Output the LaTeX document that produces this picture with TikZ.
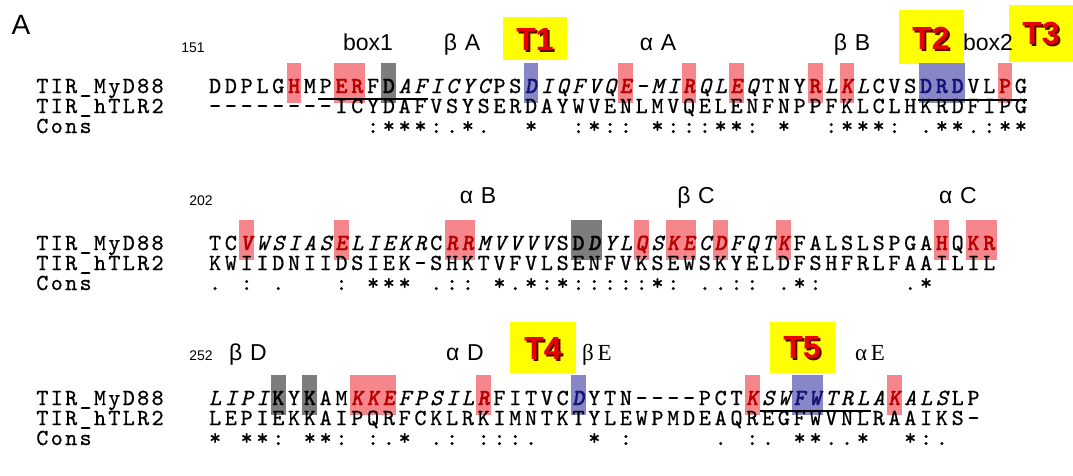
\documentclass[tikz,border=0pt]{standalone}
\usepackage{fontspec}
\setmainfont{Liberation Sans}
\newfontfamily\serf{Liberation Serif}
\newfontfamily\monof{lmmono10-regular.otf}[
  FakeBold=0.7,
  ItalicFont=lmmono10-italic.otf,
  BoldFont=lmmonolt10-bold.otf,
  BoldItalicFont=lmmonolt10-boldoblique.otf,
  BoldFeatures={FakeBold=1.3},
  BoldItalicFeatures={FakeBold=1.3}]
\definecolor{hlpink}{RGB}{245,135,140}
\definecolor{hlblue}{RGB}{135,135,200}
\definecolor{hlgray}{RGB}{125,125,125}
\definecolor{resred}{RGB}{185,0,0}
\definecolor{resblue}{RGB}{20,20,120}
\definecolor{tred}{RGB}{235,0,0}
\definecolor{tshadow}{RGB}{90,0,0}
\definecolor{tyellow}{RGB}{255,255,0}
\newdimen\cw
\def\qstyle{}
\def\qN{\def\qstyle{\upshape\mdseries\color{black}}}
\def\qI{\def\qstyle{\itshape\mdseries\color{black}}}
\def\qB{\def\qstyle{\upshape\bfseries\color{black}}}
\def\qBI{\def\qstyle{\itshape\bfseries\color{black}}}
\def\qR{\def\qstyle{\upshape\bfseries\color{resred}}}
\def\qRI{\def\qstyle{\itshape\bfseries\color{resred}}}
\def\qU{\def\qstyle{\upshape\bfseries\color{resblue}}}
\def\qUI{\def\qstyle{\itshape\bfseries\color{resblue}}}
\def\qUS{\hbox to\cw{\hss\_\hss}}
\def\qend{\qend}
\def\cells#1{\qN\cellloop#1\qend}
\def\cellloop#1{%
 \ifx#1\qend \let\qnext\relax
 \else
   \ifcat\relax\noexpand#1#1%
   \else
     \if0#1\hbox to\cw{\hss}\else\hbox to\cw{\hss{\qstyle #1}\hss}\fi
   \fi
   \let\qnext\cellloop
 \fi
 \qnext}
\newcommand\hlbox[4]{\fill[#1] ({207+15.8*#3+0.5},{#2-30}) rectangle ({207+15.8*(#3+#4)-0.5},{#2+10});}
\begin{document}
\begin{tikzpicture}[x=1pt,y=-1pt,
  seqtext/.style={anchor=base west,inner sep=0pt,text height=13pt,text depth=1pt,font=\monof\fontsize{23}{24}\selectfont},
  lab/.style={anchor=base,inner sep=0pt,font=\fontsize{23}{25}\selectfont},
  monolab/.style={anchor=base,inner sep=0pt,font=\serf\fontsize{23}{25}\selectfont},
  num/.style={anchor=base,inner sep=0pt,font=\fontsize{14}{16}\selectfont},
  tbox/.style={fill=tyellow},
  ttext/.style={inner sep=0pt,font=\bfseries\fontsize{32}{34}\selectfont,text=tred},
  tshad/.style={inner sep=0pt,font=\bfseries\fontsize{32}{34}\selectfont,text=tshadow},
  uline/.style={line width=1.3pt,black}]
\useasboundingbox (0,0) rectangle (1073,475);
\fill[white] (0,0) rectangle (1073,475);
% yellow boxes
\fill[tbox] (503,17) rectangle (567,60);
\fill[tbox] (899,10) rectangle (964,64);
\fill[tbox] (1009,5) rectangle (1073,62);
\fill[tbox] (510,322) rectangle (576,373);
\fill[tbox] (770,322) rectangle (835,373);
% highlights row 1
\hlbox{hlpink}{93}{5}{1}
\hlbox{hlpink}{93}{8}{2}
\hlbox{hlgray}{93}{11}{1}
\hlbox{hlblue}{93}{20}{1}
\hlbox{hlpink}{93}{26}{1}
\hlbox{hlpink}{93}{30}{1}
\hlbox{hlpink}{93}{33}{1}
\hlbox{hlpink}{93}{38}{1}
\hlbox{hlpink}{93}{40}{1}
\hlbox{hlblue}{93}{45}{3}
\hlbox{hlpink}{93}{50}{1}
% highlights row 2
\hlbox{hlpink}{250}{2}{1}
\hlbox{hlpink}{250}{8}{1}
\hlbox{hlpink}{250}{15}{2}
\hlbox{hlgray}{250}{23}{2}
\hlbox{hlpink}{250}{27}{1}
\hlbox{hlpink}{250}{29}{2}
\hlbox{hlpink}{250}{32}{1}
\hlbox{hlpink}{250}{36}{1}
\hlbox{hlpink}{250}{46}{1}
\hlbox{hlpink}{250}{48}{2}
% highlights row 3
\hlbox{hlgray}{405}{4}{1}
\hlbox{hlgray}{405}{6}{1}
\hlbox{hlpink}{405}{9}{3}
\hlbox{hlpink}{405}{17}{1}
\hlbox{hlblue}{405}{23}{1}
\hlbox{hlpink}{405}{34}{1}
\hlbox{hlblue}{405}{37}{2}
\hlbox{hlpink}{405}{43}{1}
% panel letter
\node[inner sep=0pt,font=\fontsize{28}{30}\selectfont] (panelA) at (21,25) {A};
% header labels
\node[num] (n151) at (193,52) {151};
\node[lab] (box1) at (368,50) {box1};
\node[lab] (bA) at (462,50) {β\,\,A};
\node[lab] (aA) at (658,50) {α\,\,A};
\node[lab] (bB) at (852,50) {β\,\,B};
\node[lab] (box2) at (988,50) {box2};
\node[num] (n202) at (201,205) {202};
\node[lab] (aB) at (478,203) {α\,\,B};
\node[lab] (bC) at (696,203) {β\,\,C};
\node[lab] (aC) at (958,203) {α\,\,C};
\node[num] (n252) at (201,360) {252};
\node[lab] (bD) at (248,360) {β\,\,D};
\node[lab] (aD) at (465,360) {α\,\,D};
\node[monolab] (bE) at (597,360) {β\,E};
\node[monolab] (aE) at (870,360) {α\,E};
% T labels
\foreach \nm/\tx/\cx/\cy in {t1/T1/535/39, t2/T2/931/38, t3/T3/1041/34, t4/T4/543/348, t5/T5/802/348}{
  \node[tshad] (\nm s) at (\cx+2,\cy+2) {\tx};
  \node[ttext] (\nm) at (\cx,\cy) {\tx};
}
% row labels
\foreach \nm/\yy in {1/93,2/250,3/405}{
  \node[seqtext] (lm\nm) at (35,\yy) {\cw=14.4pt\cells{TIR\qUS MyD88}};
  \node[seqtext] (lh\nm) at (35,\yy+20) {\cw=14.4pt\cells{TIR\qUS hTLR2}};
  \node[seqtext] (lc\nm) at (35,\yy+40) {\cw=14.4pt\cells{Cons}};
}
% row 1
\node[seqtext] (s1m) at (207,93) {\cw=15.8pt\cells{\qN DDPLG\qR H\qN MP\qR ER\qN F\qB D\qI AFICYC\qN PS\qUI D\qI IQFVQ\qRI E\qI -MI\qRI R\qI QL\qRI E\qI Q\qN TNY\qR R\qI L\qRI K\qI L\qN CVS\qU DRD\qN VL\qR P\qN G}};
\node[seqtext] (s1h) at (207,113) {\cw=15.8pt\cells{--------ICYDAFVSYSERDAYWVENLMVQELENFNPPFKLCLHKRDFIPG}};
\node[seqtext] (s1c) at (207,133) {\cw=15.8pt\cells{0000000000:***:.*.00*00:*::0*:::**:0*00:***:0.**.:**}};
% row 2
\node[seqtext] (s2m) at (207,250) {\cw=15.8pt\cells{\qN TC\qRI V\qI WSIAS\qRI E\qI LIEKR\qN C\qRI RR\qI MVVVV\qN S\qB D\qBI D\qI YL\qRI Q\qI S\qRI KE\qI C\qRI D\qI FQT\qRI K\qN FALSLSPGA\qR H\qN Q\qR KR}};
\node[seqtext] (s2h) at (207,270) {\cw=15.8pt\cells{KWIIDNIIDSIEK-SHKTVFVLSENFVKSEWSKYELDFSHFRLFAAILIL}};
\node[seqtext] (s2c) at (207,290) {\cw=15.8pt\cells{.0:0.000:0***0.::0*.*:*:::::*:0..::0.*:00000.*}};
% row 3
\node[seqtext] (s3m) at (207,405) {\cw=15.8pt\cells{\qI LIPI\qB K\qN Y\qB K\qN AM\qRI KKE\qI FPSIL\qRI R\qN FITVC\qUI D\qN YTN----PCT\qRI K\qI SW\qUI FW\qI TRLA\qRI K\qI ALS\qN LP}};
\node[seqtext] (s3h) at (207,425) {\cw=15.8pt\cells{LEPIEKKAIPQRFCKLRKIMNTKTYLEWPMDEAQREGFWVNLRAAIKS-}};
\node[seqtext] (s3c) at (207,445) {\cw=15.8pt\cells{*0**:0**:0:.*0.:0:::.000*0:00000.0:.0**..*00*:.}};
% underlines
\draw[uline] (317.6,99) -- (428.2,99);
\draw[uline] (918,100) -- (1026.8,100);
\draw[uline] (760,411) -- (870.6,411);
\end{tikzpicture}
\end{document}
